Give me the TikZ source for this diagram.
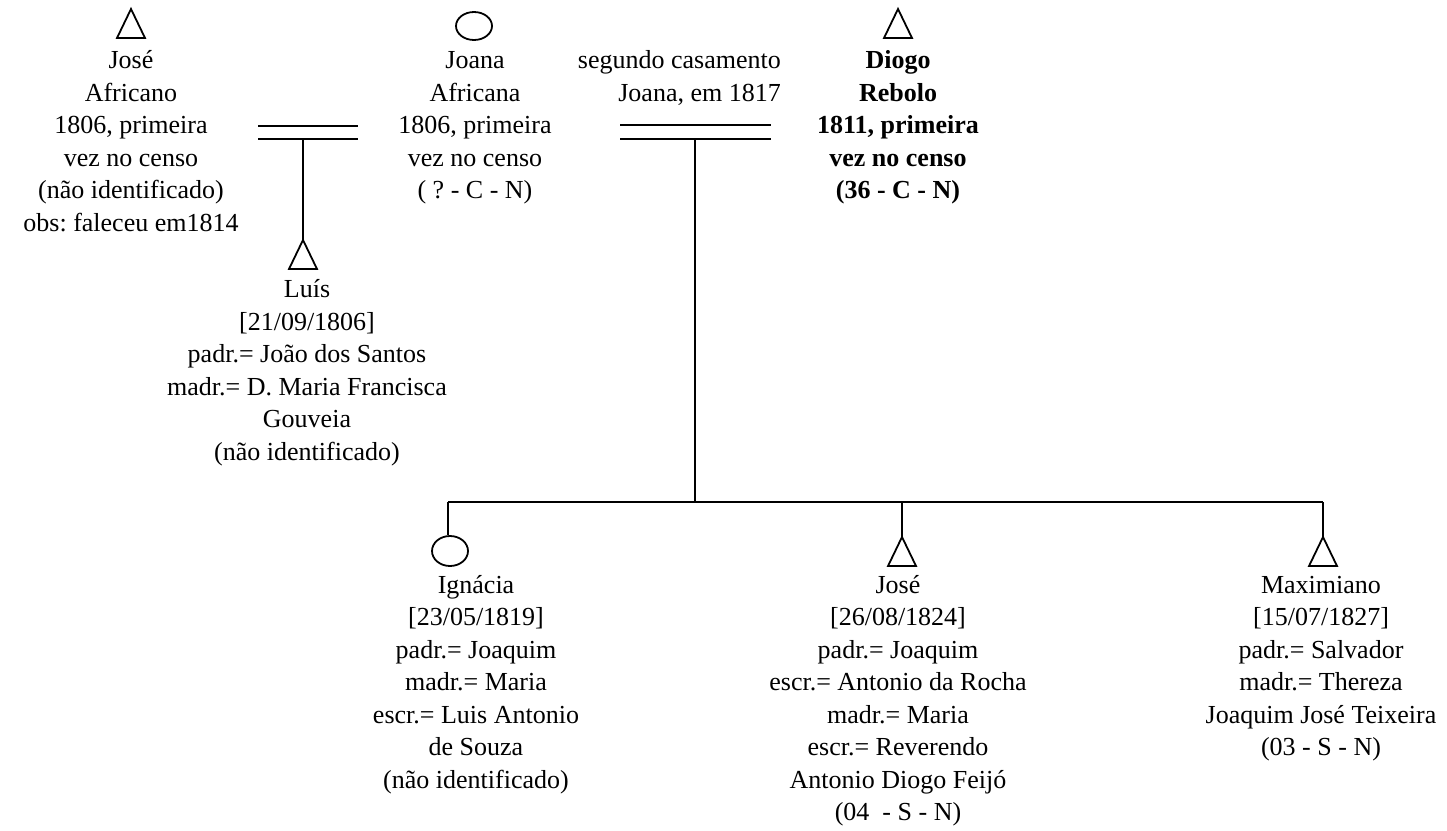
\documentclass[tikz,border=0pt]{standalone}
\usepackage{fontspec}
\setmainfont{Liberation Serif}
\usetikzlibrary{shapes.geometric}
\frenchspacing

\tikzset{
  line/.style={line width=1.8pt, line cap=butt},
  female/.style={draw, line width=1.8pt, ellipse, inner sep=0pt,
                 minimum width=36pt, minimum height=28pt},
  male/.style={draw, line width=1.8pt, line join=miter},
  info/.style={anchor=north, inner sep=0pt, align=center,
               font=\fontsize{26}{32.5}\selectfont},
  infobold/.style={info, font=\fontsize{26}{32.5}\selectfont\bfseries},
}

% male symbol: triangle hanging from its apex coordinate
\newcommand{\maletri}[1]{\draw[male] (#1) -- ++(-14,29) -- ++(28,0) -- cycle;}

\begin{document}
\begin{tikzpicture}[x=1pt,y=-1pt]
\useasboundingbox (0,0) rectangle (1447,830);

% ---- first generation ----
\coordinate (jose) at (131,9);
\maletri{jose}
\node[info] (josetxt) at (131,45.75) {\strut Jos\'e\\Africano\\1806, primeira\\vez no censo\\(n\~ao identificado)\\obs: faleceu em1814};

\node[female] (joana) at (474,26) {};
\node[info] (joanatxt) at (475,45.75) {\strut Joana\\Africana\\1806, primeira\\vez no censo\\( ? - C - N)};

\coordinate (diogo) at (898,9);
\maletri{diogo}
\node[infobold] (diogotxt) at (898,45.75) {\strut Diogo\\Rebolo\\1811, primeira\\vez no censo\\(36 - C - N)};

\node[info, anchor=north east, align=right] (casam) at (781,45.75) {\strut segundo casamento\\Joana, em 1817\hspace{9pt}};

% ---- first marriage ----
\coordinate (m1a) at (258,126);
\coordinate (m1b) at (358,126);
\coordinate (m1c) at (258,139);
\coordinate (m1d) at (358,139);
\coordinate (m1s) at (303,139);
\draw[line] (m1a) -- (m1b);
\draw[line] (m1c) -- (m1d);

\coordinate (luis) at (303,240);
\maletri{luis}
\draw[line] (m1s) -- (luis);
\node[info] (luistxt) at (307,274.75) {\strut Lu\'is\\{}[21/09/1806]\\padr.= Jo\~ao dos Santos\\madr.= D. Maria Francisca\\Gouveia\\(n\~ao identificado)};

% ---- second marriage ----
\coordinate (m2a) at (620,125);
\coordinate (m2b) at (771,125);
\coordinate (m2c) at (620,139);
\coordinate (m2d) at (771,139);
\coordinate (m2s) at (695,139);
\coordinate (m2j) at (695,502);
\draw[line] (m2a) -- (m2b);
\draw[line] (m2c) -- (m2d);
\draw[line] (m2s) -- (m2j);

% sibling bar
\coordinate (barL) at (448,502);
\coordinate (barM) at (902,502);
\coordinate (barR) at (1323,502);
\draw[line] (barL) -- (barR);

% ---- children ----
\node[female, minimum height=30pt] (ignacia) at (450,551) {};
\draw[line] (barL) -- (ignacia.north -| barL);
\node[info] (ignaciatxt) at (476,570.25) {\strut Ign\'acia\\{}[23/05/1819]\\padr.= Joaquim\\madr.= Maria\\escr.= Luis Antonio\\de Souza\\(n\~ao identificado)};

\coordinate (josef) at (902,537);
\maletri{josef}
\draw[line] (barM) -- (josef);
\node[info] (joseftxt) at (898,570.25) {\strut Jos\'e\\{}[26/08/1824]\\padr.= Joaquim\\escr.= Antonio da Rocha\\madr.= Maria\\escr.= Reverendo\\Antonio Diogo Feij\'o\\(04~ - S - N)};

\coordinate (maxim) at (1323,537);
\maletri{maxim}
\draw[line] (barR) -- (maxim);
\node[info] (maximtxt) at (1321,570.25) {\strut Maximiano\\{}[15/07/1827]\\padr.= Salvador\\madr.= Thereza\\Joaquim Jos\'e Teixeira\\(03 - S - N)};

\end{tikzpicture}
\end{document}
